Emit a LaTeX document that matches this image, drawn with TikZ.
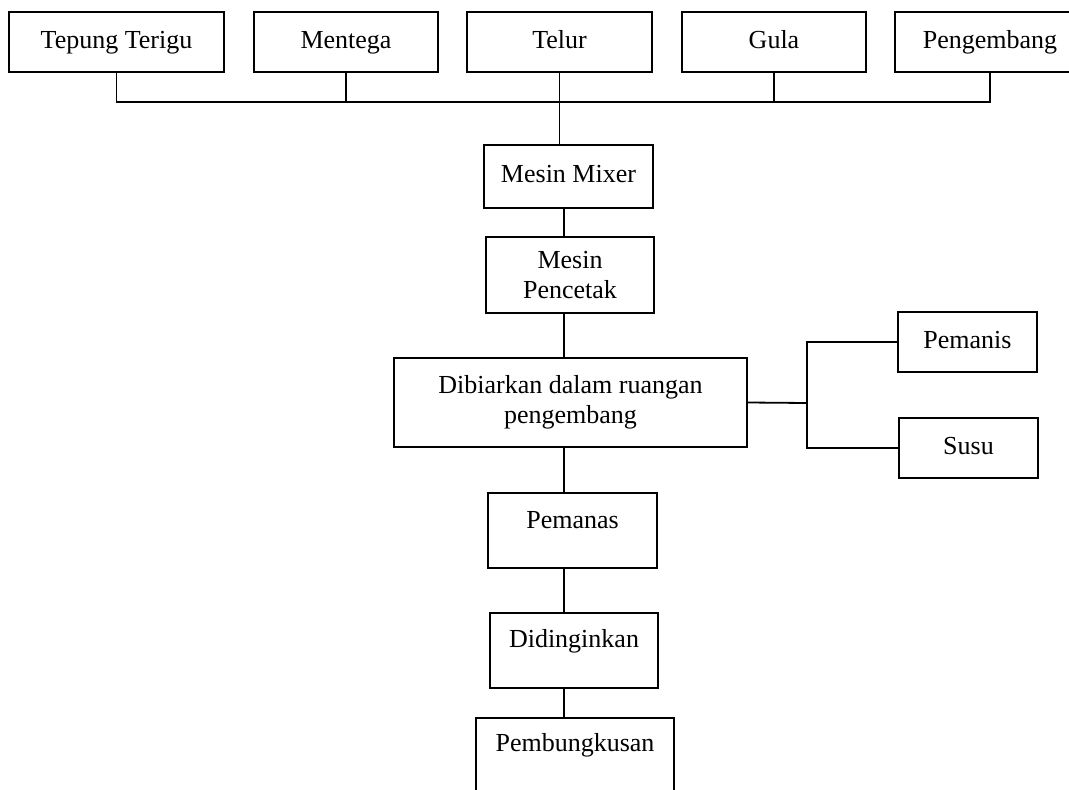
\documentclass[tikz,border=0pt]{standalone}
\usepackage{fontspec}
\setmainfont{Liberation Serif}
\begin{document}
\begin{tikzpicture}[x=1pt,y=-1pt,line width=1.8pt,
  box/.style={draw,inner sep=0pt,align=center,font=\fontsize{26}{30}\selectfont},
  onebox/.style={box,text height=18pt,text depth=6pt}]
  \useasboundingbox (0,0) rectangle (1069,790);
  \node[onebox,minimum width=215,minimum height=60] (tepung) at (116.5,42) {Tepung Terigu};
  \node[onebox,minimum width=184,minimum height=60] (mentega) at (346,42) {Mentega};
  \node[onebox,minimum width=185,minimum height=60] (telur) at (559.5,42) {Telur};
  \node[onebox,minimum width=184,minimum height=60] (gula) at (774,42) {Gula};
  \node[onebox,minimum width=190,minimum height=60] (pengembang) at (990,42) {Pengembang};
  \node[onebox,minimum width=169,minimum height=63] (mixer) at (568.5,176.5) {Mesin Mixer};
  \node[box,minimum width=168,minimum height=76] (pencetak) at (570,275) {Mesin\\Pencetak};
  \node[box,minimum width=353,minimum height=89] (ruang) at (570.5,402.5) {Dibiarkan dalam ruangan\\pengembang};
  \node[onebox,minimum width=139,minimum height=60] (pemanis) at (967.5,342) {Pemanis};
  \node[onebox,minimum width=139,minimum height=60] (susu) at (968.5,448) {Susu};
  \node[onebox,minimum width=169,minimum height=75,text depth=23pt] (pemanas) at (572.5,530.5) {Pemanas};
  \node[onebox,minimum width=168,minimum height=75,text depth=24pt] (dingin) at (574,650.5) {Didinginkan};
  \node[onebox,minimum width=198,minimum height=76,text depth=28pt] (bungkus) at (575,756) {Pembungkusan};
  \coordinate (bus) at (561,102);
  \coordinate (spine) at (564,0);
  \coordinate (cabang) at (807,403);
  \foreach \n in {tepung,mentega,gula,pengembang} {\draw (\n.south) |- (bus);}
  \draw (telur.south) -- (telur.south |- mixer.north);
  \foreach \a/\b in {mixer/pencetak,pencetak/ruang,ruang/pemanas,pemanas/dingin,dingin/bungkus}
    {\draw (spine |- \a.south) -- (spine |- \b.north);}
  \draw (ruang.east) -- (cabang);
  \draw (pemanis.west) -| (cabang) |- (susu.west);
\end{tikzpicture}
\end{document}
